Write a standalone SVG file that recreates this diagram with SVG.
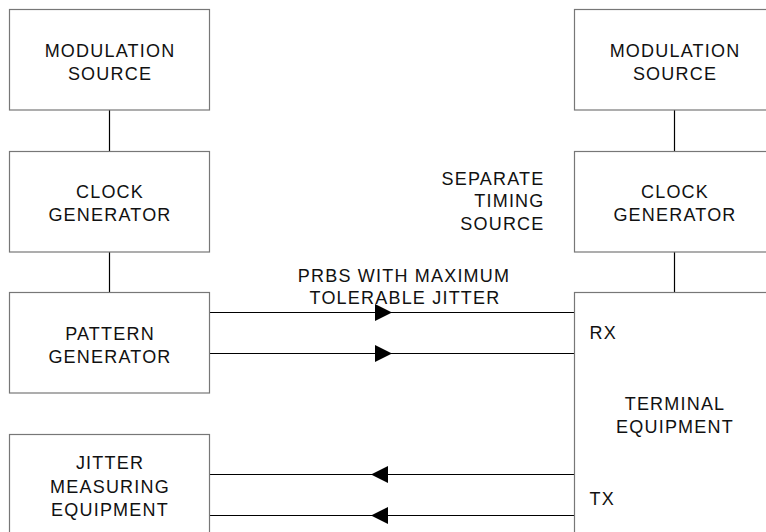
<svg xmlns="http://www.w3.org/2000/svg" width="766" height="532" viewBox="0 0 766 532">
<style>
.box{fill:#fff;stroke:#777;stroke-width:1.2}
.t{font-family:"Liberation Sans",Arial,sans-serif;font-size:18px;letter-spacing:1.2px;fill:#111}
.c{text-anchor:middle}
.r{text-anchor:end}
.ln{stroke:#000;stroke-width:1.2;fill:none}
</style>
<defs>
<marker id="ah" viewBox="0 0 17 17" refX="17" refY="8.5" markerWidth="17" markerHeight="17" markerUnits="userSpaceOnUse" orient="auto">
<path d="M0,0 L17,8.5 L0,17 Z" fill="#000"/>
</marker>
</defs>
<rect width="766" height="532" fill="#fff"/>
<g id="connectors">
<line class="ln" x1="109.5" y1="110" x2="109.5" y2="151"/>
<line class="ln" x1="109.5" y1="252" x2="109.5" y2="292"/>
<line class="ln" x1="674.5" y1="110" x2="674.5" y2="151"/>
<line class="ln" x1="674.5" y1="252" x2="674.5" y2="292"/>
<line class="ln" x1="210" y1="312.5" x2="574" y2="312.5"/>
<line class="ln" x1="210" y1="312.5" x2="392" y2="312.5" marker-end="url(#ah)"/>
<line class="ln" x1="210" y1="353.5" x2="574" y2="353.5"/>
<line class="ln" x1="210" y1="353.5" x2="392" y2="353.5" marker-end="url(#ah)"/>
<line class="ln" x1="210" y1="474.5" x2="574" y2="474.5"/>
<line class="ln" x1="574" y1="474.5" x2="371" y2="474.5" marker-end="url(#ah)"/>
<line class="ln" x1="210" y1="515.5" x2="574" y2="515.5"/>
<line class="ln" x1="574" y1="515.5" x2="371" y2="515.5" marker-end="url(#ah)"/>
</g>
<g id="mod-left">
<rect class="box" x="9.5" y="9.5" width="200" height="100.5"/>
<text class="t c" x="110" y="56.5">MODULATION</text>
<text class="t c" x="110" y="79.5">SOURCE</text>
</g>
<g id="clock-left">
<rect class="box" x="9.5" y="151.5" width="200" height="100.5"/>
<text class="t c" x="110" y="198">CLOCK</text>
<text class="t c" x="110" y="221">GENERATOR</text>
</g>
<g id="pattern">
<rect class="box" x="9.5" y="292.5" width="200" height="100.5"/>
<text class="t c" x="110" y="339.5">PATTERN</text>
<text class="t c" x="110" y="362.5">GENERATOR</text>
</g>
<g id="jitter">
<rect class="box" x="9.5" y="434.5" width="200" height="110"/>
<text class="t c" x="110" y="469">JITTER</text>
<text class="t c" x="110" y="492.5">MEASURING</text>
<text class="t c" x="110" y="515.5">EQUIPMENT</text>
</g>
<g id="mod-right">
<rect class="box" x="574.5" y="9.5" width="210" height="100.5"/>
<text class="t c" x="675" y="56.5">MODULATION</text>
<text class="t c" x="675" y="79.5">SOURCE</text>
</g>
<g id="clock-right">
<rect class="box" x="574.5" y="151.5" width="210" height="100.5"/>
<text class="t c" x="675" y="198">CLOCK</text>
<text class="t c" x="675" y="221">GENERATOR</text>
</g>
<g id="terminal">
<rect class="box" x="574.5" y="292.5" width="210" height="260"/>
<text class="t c" x="675" y="410">TERMINAL</text>
<text class="t c" x="675" y="433">EQUIPMENT</text>
<text class="t" x="589.5" y="339">RX</text>
<text class="t" x="589.5" y="505">TX</text>
</g>
<g id="labels">
<text class="t r" x="544.5" y="185">SEPARATE</text>
<text class="t r" x="544.5" y="207">TIMING</text>
<text class="t r" x="544.5" y="229.5">SOURCE</text>
<text class="t c" x="404" y="281.5">PRBS WITH MAXIMUM</text>
<text class="t c" x="405" y="304">TOLERABLE JITTER</text>
</g>
</svg>
